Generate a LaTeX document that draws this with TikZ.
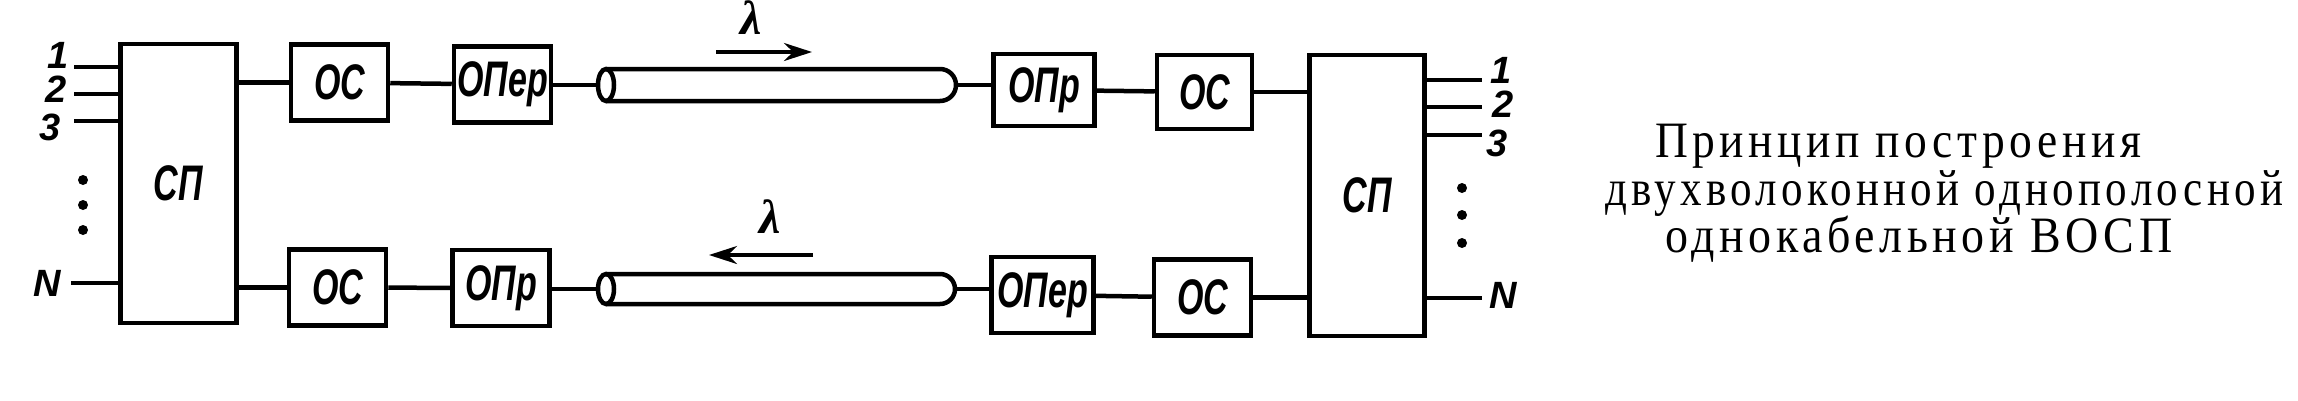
\documentclass[tikz,border=0pt]{standalone}
\usepackage{fontspec}
\usepackage{graphicx}
\setmainfont{Liberation Serif}
\newfontfamily\labfont{Liberation Sans}
\newfontfamily\captfont{Liberation Serif}[LetterSpace=10]
\usetikzlibrary{arrows.meta}
\newcommand\nlab[1]{\scalebox{0.68}[1]{#1}}
\newcommand\caplinebox[2]{\resizebox{#1}{\height}{#2}}
\tikzset{
  box/.style={draw, line width=4.5pt, inner sep=0pt, minimum width=97pt, minimum height=76pt,
    font=\labfont\bfseries\itshape\fontsize{50}{50}\selectfont},
  bigbox/.style={box, minimum width=116pt, minimum height=279pt},
  wire/.style={line width=4.5pt},
  arr/.style={line width=3.5pt, -{Stealth[length=28pt,width=18pt]}},
  num/.style={inner sep=0pt, font=\labfont\bfseries\itshape\fontsize{38}{38}\selectfont},
  lam/.style={inner sep=0pt, font=\bfseries\itshape\fontsize{48}{48}\selectfont},
  capt/.style={inner sep=0pt, anchor=base west, font=\captfont\fontsize{51}{51}\selectfont},
  dot/.style={fill=black}
}
\begin{document}
\begin{tikzpicture}[x=1pt,y=-1pt]
\useasboundingbox (0,0) rectangle (2298,400);

% left multiplexer
\node[bigbox] (sp1) at (178.5,183.5) {\nlab{СП}};
% top row
\node[box] (oc1) at (339.5,82.5) {\nlab{ОС}};
\node[box] (oper1) at (502.5,84.5) {\nlab{ОПер}};
\node[box, minimum width=101pt, minimum height=72pt] (opr1) at (1044,90) {\nlab{ОПр}};
\node[box, minimum width=95pt, minimum height=74pt] (oc3) at (1204.5,92) {\nlab{ОС}};
% bottom row
\node[box] (oc2) at (337.5,287.5) {\nlab{ОС}};
\node[box] (opr2) at (501,288) {\nlab{ОПр}};
\node[box, minimum width=102pt] (oper4) at (1042.5,295) {\nlab{ОПер}};
\node[box] (oc4) at (1202.5,297.5) {\nlab{ОС}};
% right multiplexer
\node[bigbox, minimum width=115pt, minimum height=281pt] (sp2) at (1367,195.5) {\nlab{СП}\hspace{24pt}};

% cables
\coordinate (c1w) at (598,85);
\coordinate (c1e) at (956,85);
\coordinate (c2w) at (598,289);
\coordinate (c2e) at (956,289);
\draw[wire] (606,85) ellipse [x radius=8pt, y radius=16pt];
\draw[wire] (606,69) -- (940,69) arc[start angle=90, end angle=-90, x radius=16pt, y radius=16pt] -- (606,101);
\draw[wire] (606,289) ellipse [x radius=8pt, y radius=15pt];
\draw[wire] (606,274) -- (940,274) arc[start angle=90, end angle=-90, x radius=15pt, y radius=15pt] -- (606,304);

% connectors top
\draw[wire] (oc1.west -| sp1.east) -- (oc1.west);
\draw[wire] (oc1) -- (oper1);
\draw[wire] (oper1.east |- c1w) -- (c1w);
\draw[wire] (c1e) -- (c1e -| opr1.west);
\draw[wire] (opr1) -- (oc3);
\draw[wire] (oc3.east) -- (oc3.east -| sp2.west);
% connectors bottom
\draw[wire] (oc2.west -| sp1.east) -- (oc2.west);
\draw[wire] (oc2) -- (opr2);
\draw[wire] (opr2.east |- c2w) -- (c2w);
\draw[wire] (c2e) -- (c2e -| oper4.west);
\draw[wire] (oper4) -- (oc4);
\draw[wire] (oc4.east) -- (oc4.east -| sp2.west);

% inputs
\coordinate (in1) at (74,67);
\coordinate (in2) at (74,94);
\coordinate (in3) at (74,121);
\coordinate (inN) at (71,283);
\foreach \c in {in1,in2,in3,inN} \draw[wire] (\c) -- (\c -| sp1.west);
\node[num] (l1) at (58,55) {1};
\node[num] (l2) at (56,89) {2};
\node[num] (l3) at (50,127) {3};
\node[num] (lN) at (47,283) {N};
\fill[dot] (83,180) circle[radius=5pt];
\fill[dot] (83,205) circle[radius=5pt];
\fill[dot] (83,230) circle[radius=5pt];

% outputs
\coordinate (out1) at (1482,80);
\coordinate (out2) at (1482,107);
\coordinate (out3) at (1482,135);
\coordinate (outN) at (1482,298);
\foreach \c in {out1,out2,out3,outN} \draw[wire] (\c -| sp2.east) -- (\c);
\node[num] (r1) at (1501,70) {1};
\node[num] (r2) at (1503,104) {2};
\node[num] (r3) at (1497,143) {3};
\node[num] (rN) at (1503,295) {N};
\fill[dot] (1462,188) circle[radius=5pt];
\fill[dot] (1462,215) circle[radius=5pt];
\fill[dot] (1462,243) circle[radius=5pt];

% direction arrows
\coordinate (a1s) at (716,52);
\coordinate (a1e) at (812,52);
\draw[arr] (a1s) -- (a1e);
\node[lam] (lam1) at (751,18) {λ};
\coordinate (a2s) at (813,255);
\coordinate (a2e) at (709,255);
\draw[arr] (a2s) -- (a2e);
\node[lam] (lam2) at (770,217) {λ};

% caption
\node[capt] (cap1) at (1655,157) {\caplinebox{486pt}{Принцип построения}};
\node[capt] (cap2) at (1605,205) {\caplinebox{678pt}{двухволоконной однополосной}};
\node[capt] (cap3) at (1665,252) {\caplinebox{507pt}{однокабельной ВОСП}};
\end{tikzpicture}
\end{document}
